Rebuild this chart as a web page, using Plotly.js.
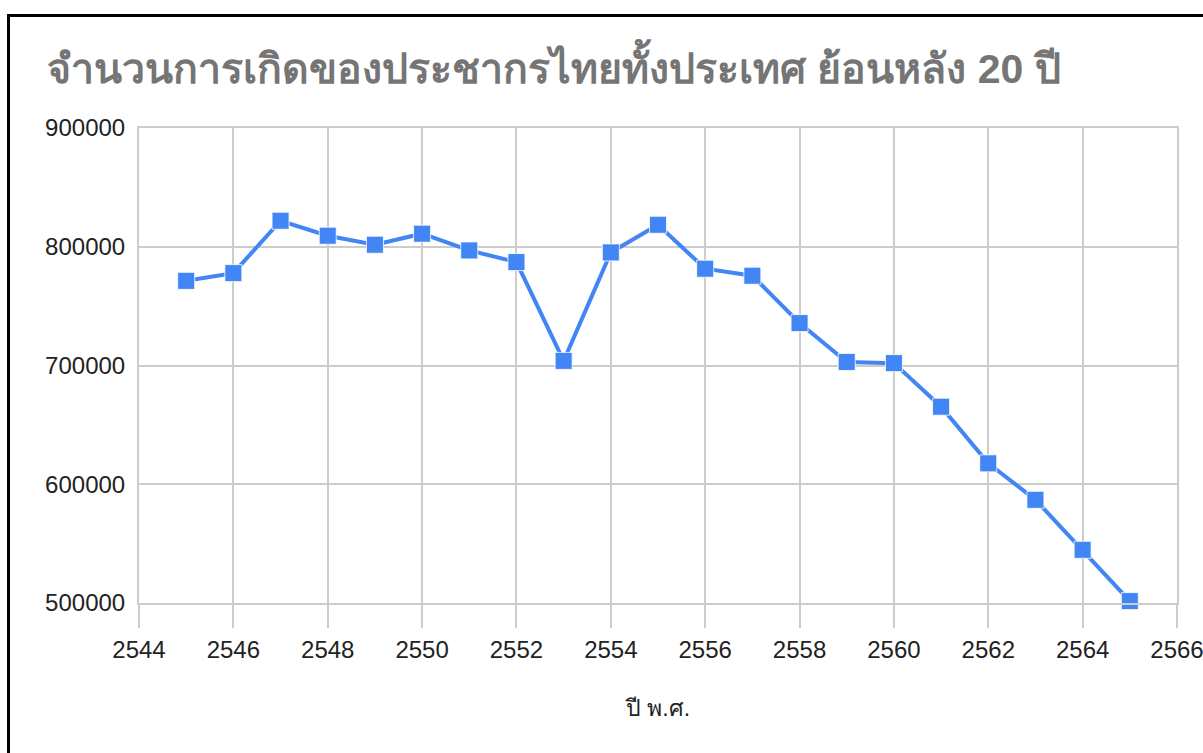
<!DOCTYPE html>
<html>
<head>
<meta charset="utf-8">
<script src="https://cdn.plot.ly/plotly-3.0.1.min.js"></script>
<style>
  html, body { margin: 0; padding: 0; background: #fff; overflow: hidden; }
  #wrap { position: relative; width: 1203px; height: 753px; overflow: hidden; }
  #chart { position: absolute; left: 0; top: 0; width: 1203px; height: 753px; }
  #frame { position: absolute; left: 7px; top: 14px; width: 1300px; height: 900px;
           border: 3px solid #000; pointer-events: none; box-sizing: border-box; }
</style>
</head>
<body>
<div id="wrap">
  <div id="chart"></div>
  <div id="frame"></div>
</div>
<script>
const years = [2545, 2546, 2547, 2548, 2549, 2550, 2551, 2552, 2553, 2554, 2555,
               2556, 2557, 2558, 2559, 2560, 2561, 2562, 2563, 2564, 2565];
const births = [771300, 777800, 821900, 809300, 801700, 811000, 796900, 787100, 703900, 795200, 818500,
                781500, 775600, 735700, 703000, 702000, 665300, 617600, 586900, 544800, 501600];
const xTicks = [2544, 2546, 2548, 2550, 2552, 2554, 2556, 2558, 2560, 2562, 2564, 2566];
const yTicks = [500000, 600000, 700000, 800000, 900000];
const titleText = "จำนวนการเกิดของประชากรไทยทั้งประเทศ ย้อนหลัง 20 ปี";
const xTitle = "ปี พ.ศ.";

const trace = {
  x: years,
  y: births,
  type: 'scatter',
  mode: 'lines+markers',
  cliponaxis: false,
  line: { color: '#4285F4', width: 4 },
  marker: { symbol: 'square', size: 17, color: '#4285F4', line: { color: '#ffffff', width: 0.8 } },
  hoverinfo: 'x+y'
};

const gridCol = '#cccccc';

const layout = {
  width: 1203,
  height: 753,
  paper_bgcolor: '#ffffff',
  plot_bgcolor: '#ffffff',
  showlegend: false,
  margin: { l: 138.6, r: 26, t: 128, b: 150, pad: 0 },
  font: { family: '"Liberation Sans", Arial, sans-serif', color: '#222222' },
  title: {
    text: '<b>' + titleText + '</b>',
    font: { size: 41, color: '#757575' },
    x: 47 / 1203, xref: 'container', xanchor: 'left',
    y: 1, yref: 'container', yanchor: 'top',
    pad: { t: 54 }
  },
  xaxis: {
    range: [2544, 2566],
    tickvals: xTicks,
    ticktext: xTicks.map(String),
    showgrid: true,
    gridcolor: gridCol,
    gridwidth: 2,
    zeroline: false,
    showline: true,
    mirror: true,
    linecolor: gridCol,
    linewidth: 2,
    ticks: 'outside',
    ticklen: 23,
    tickwidth: 2,
    tickcolor: gridCol,
    ticklabelstandoff: 1,
    ticklabeloverflow: 'allow',
    tickfont: { size: 24, color: '#222222' },
    title: { text: xTitle, font: { size: 23, color: '#222222' }, standoff: 38 }
  },
  yaxis: {
    range: [500000, 900000],
    tickvals: yTicks,
    ticktext: yTicks.map(String),
    showgrid: true,
    gridcolor: gridCol,
    gridwidth: 2,
    zeroline: false,
    showline: true,
    mirror: true,
    linecolor: gridCol,
    linewidth: 2,
    ticks: '',
    ticklabelstandoff: 7,
    tickfont: { size: 24, color: '#222222' }
  }
};

Plotly.newPlot('chart', [trace], layout, { displayModeBar: false, staticPlot: true });
</script>
</body>
</html>
